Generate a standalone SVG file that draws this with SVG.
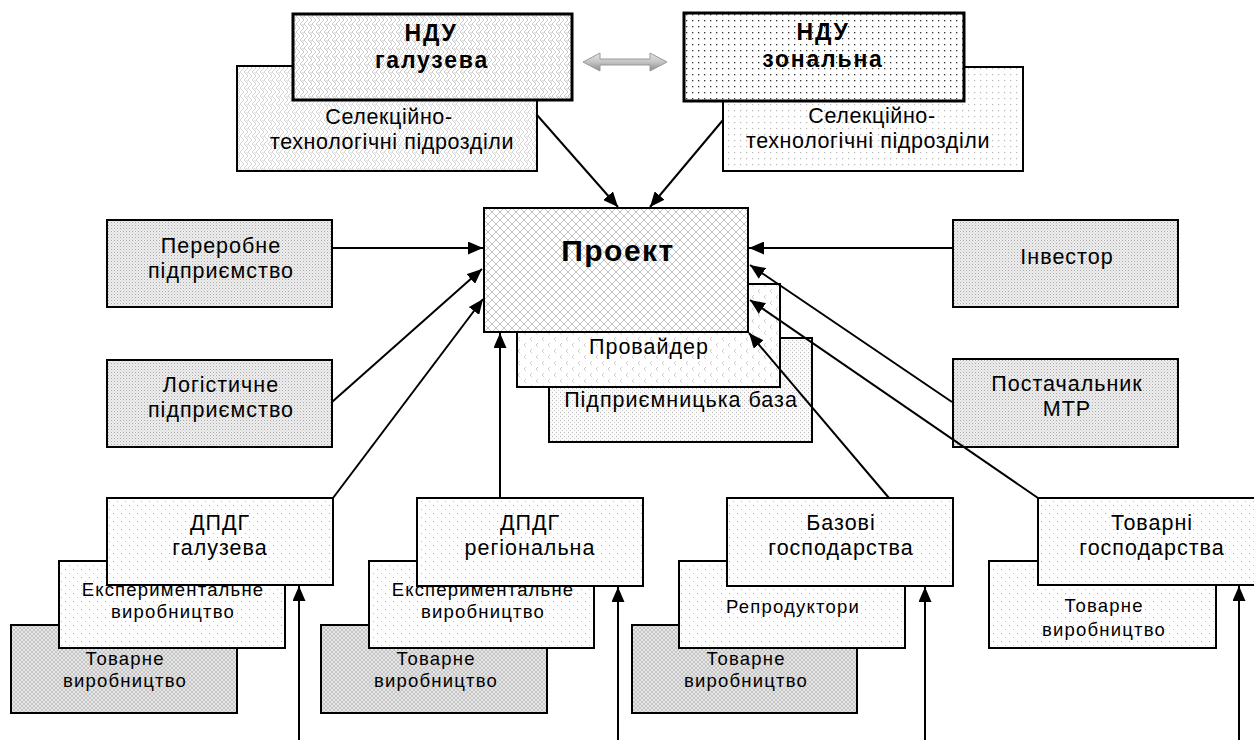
<svg xmlns="http://www.w3.org/2000/svg" width="1254" height="740" viewBox="0 0 1254 740">
<defs>
  <pattern id="pZig" width="8" height="8" patternUnits="userSpaceOnUse">
    <rect width="8" height="8" fill="#fff"/>
    <path d="M0 0 L4 4 L0 8 M4 0 L8 4 M4 8 L8 4 M6 0 L8 2" fill="none" stroke="#c8c8c8" stroke-width="1"/>
  </pattern>
  <pattern id="pZig2" width="8" height="8" patternUnits="userSpaceOnUse">
    <rect width="8" height="8" fill="#fff"/>
    <path d="M0 0 L4 4 L0 8 M4 0 L8 4 M4 8 L8 4 M6 0 L8 2" fill="none" stroke="#d4d4d4" stroke-width="1"/>
  </pattern>
  <pattern id="pDotDark" width="6" height="6" patternUnits="userSpaceOnUse">
    <rect width="6" height="6" fill="#fff"/>
    <rect x="2" y="2" width="1.3" height="1.3" fill="#333"/>
  </pattern>
  <pattern id="pDotLight" width="6" height="6" patternUnits="userSpaceOnUse">
    <rect width="6" height="6" fill="#fff"/>
    <rect x="2" y="2" width="1.2" height="1.2" fill="#b8b8b8"/>
  </pattern>
  <pattern id="pXhatch" width="8" height="8" patternUnits="userSpaceOnUse">
    <rect width="8" height="8" fill="#fff"/>
    <path d="M0 0 L8 8 M8 0 L0 8" stroke="#c4c4c4" stroke-width="1"/>
  </pattern>
  <pattern id="pChev" width="12" height="12" patternUnits="userSpaceOnUse">
    <rect width="12" height="12" fill="#fff"/>
    <path d="M4 1 L2 3 L4 5 M10 7 L8 9 L10 11" fill="none" stroke="#cfcfcf" stroke-width="1"/>
  </pattern>
  <pattern id="pFine" width="3" height="3" patternUnits="userSpaceOnUse">
    <rect width="3" height="3" fill="#ededed"/>
    <rect x="0" y="0" width="1" height="1" fill="#ababab"/>
    <rect x="1.5" y="1.5" width="1" height="1" fill="#cbcbcb"/>
  </pattern>
  <pattern id="pFineLight" width="4" height="4" patternUnits="userSpaceOnUse">
    <rect width="4" height="4" fill="#fafafa"/>
    <rect x="0" y="0" width="1" height="1" fill="#bdbdbd"/>
    <rect x="2" y="2" width="1" height="1" fill="#cfcfcf"/>
  </pattern>
  <pattern id="pSparse" width="8" height="8" patternUnits="userSpaceOnUse">
    <rect width="8" height="8" fill="#fff"/>
    <rect x="1" y="1" width="1" height="1" fill="#a8a8a8"/>
    <rect x="5" y="5" width="1" height="1" fill="#c0c0c0"/>
  </pattern>
  <pattern id="pGray" width="4" height="4" patternUnits="userSpaceOnUse">
    <rect width="4" height="4" fill="#e6e6e6"/>
    <path d="M0 0 L4 4 M4 0 L0 4" stroke="#bcbcbc" stroke-width="0.8"/>
  </pattern>
  <linearGradient id="gArrow" x1="0" y1="0" x2="0" y2="1">
    <stop offset="0" stop-color="#e6e6e6"/>
    <stop offset="0.5" stop-color="#c4c4c4"/>
    <stop offset="1" stop-color="#8c8c8c"/>
  </linearGradient>
  <marker id="ah" markerUnits="userSpaceOnUse" markerWidth="16" markerHeight="13" refX="15" refY="6.5" orient="auto">
    <path d="M0 0 L15 6.5 L0 13 z" fill="#000"/>
  </marker>
</defs>
<style>
  .b { stroke: #000; stroke-width: 2; }
  .bt { stroke: #000; stroke-width: 3; }
  .t { font-family: "Liberation Sans", Arial, sans-serif; font-size: 21.5px; letter-spacing: 1px; fill: #000; text-anchor: middle; }
  .tm { font-family: "Liberation Sans", Arial, sans-serif; font-size: 21.5px; letter-spacing: 0.6px; fill: #000; text-anchor: middle; }
  .ts { font-family: "Liberation Sans", Arial, sans-serif; font-size: 18.5px; letter-spacing: 1.2px; fill: #000; text-anchor: middle; }
  .tb { font-family: "Liberation Sans", Arial, sans-serif; font-size: 23px; letter-spacing: 1.8px; font-weight: bold; fill: #000; text-anchor: middle; }
  .tp { font-family: "Liberation Sans", Arial, sans-serif; font-size: 30px; letter-spacing: 1.5px; font-weight: bold; fill: #000; text-anchor: middle; }
  .c { stroke: #000; stroke-width: 2; fill: none; marker-end: url(#ah); }
</style>

<g id="ndu-galuzeva">
  <rect x="237" y="66" width="300" height="105" fill="url(#pZig2)" class="b"/>
  <text class="tm" x="389" y="124">Селекційно-</text>
  <text class="tm" x="392" y="149">технологічні підрозділи</text>
  <rect x="293" y="14" width="279" height="86" fill="url(#pZig)" class="bt"/>
  <text class="tb" x="431" y="41">НДУ</text>
  <text class="tb" x="432" y="68">галузева</text>
</g>

<g id="ndu-zonalna">
  <rect x="723" y="67" width="300" height="104" fill="url(#pDotLight)" class="b"/>
  <text class="tm" x="872" y="123">Селекційно-</text>
  <text class="tm" x="868" y="148">технологічні підрозділи</text>
  <rect x="684" y="13" width="280" height="88" fill="url(#pDotDark)" class="bt"/>
  <text class="tb" x="823" y="40">НДУ</text>
  <text class="tb" x="823" y="67">зональна</text>
</g>

<g id="double-arrow">
  <polygon points="583,62 600,53 600,59 650,59 650,53 667,62 650,71 650,65 600,65 600,71" fill="url(#gArrow)" stroke="#9a9a9a" stroke-width="1"/>
</g>

<g id="project">
  <rect x="549" y="338" width="263" height="104" fill="url(#pFineLight)" class="b"/>
  <text class="t" x="681" y="407">Підприємницька база</text>
  <rect x="517" y="284" width="263" height="103" fill="url(#pChev)" class="b"/>
  <text class="t" x="649" y="354">Провайдер</text>
  <rect x="484" y="208" width="264" height="124" fill="url(#pXhatch)" class="b" stroke-width="2.5"/>
  <text class="tp" x="618" y="261">Проект</text>
</g>

<g id="pererobne">
  <rect x="107" y="220" width="225" height="87" fill="url(#pFine)" class="b"/>
  <text class="t" x="221" y="253">Переробне</text>
  <text class="t" x="221" y="278">підприємство</text>
</g>

<g id="logistychne">
  <rect x="107" y="360" width="225" height="87" fill="url(#pFine)" class="b"/>
  <text class="t" x="221" y="392">Логістичне</text>
  <text class="t" x="221" y="417">підприємство</text>
</g>

<g id="investor">
  <rect x="953" y="220" width="225" height="87" fill="url(#pFine)" class="b"/>
  <text class="t" x="1067" y="264">Інвестор</text>
</g>

<g id="postachalnyk">
  <rect x="953" y="359" width="225" height="88" fill="url(#pFine)" class="b"/>
  <text class="t" x="1067" y="391">Постачальник</text>
  <text class="t" x="1067" y="416">МТР</text>
</g>

<g id="dpdg-galuzeva">
  <rect x="11" y="625" width="226" height="88" fill="url(#pGray)" class="b"/>
  <text class="ts" x="125" y="665">Товарне</text>
  <text class="ts" x="125" y="687">виробництво</text>
  <rect x="59" y="561" width="226" height="87" fill="url(#pSparse)" class="b"/>
  <text class="ts" x="173" y="596">Експериментальне</text>
  <text class="ts" x="173" y="618">виробництво</text>
  <rect x="107" y="498" width="226" height="87" fill="url(#pSparse)" class="b"/>
  <text class="t" x="220" y="530">ДПДГ</text>
  <text class="t" x="220" y="555">галузева</text>
</g>

<g id="dpdg-regionalna">
  <rect x="321" y="625" width="226" height="88" fill="url(#pGray)" class="b"/>
  <text class="ts" x="436" y="665">Товарне</text>
  <text class="ts" x="436" y="687">виробництво</text>
  <rect x="369" y="561" width="225" height="87" fill="url(#pSparse)" class="b"/>
  <text class="ts" x="483" y="596">Експериментальне</text>
  <text class="ts" x="483" y="618">виробництво</text>
  <rect x="417" y="498" width="226" height="88" fill="url(#pSparse)" class="b"/>
  <text class="t" x="530" y="530">ДПДГ</text>
  <text class="t" x="530" y="555">регіональна</text>
</g>

<g id="bazovi">
  <rect x="632" y="625" width="225" height="88" fill="url(#pGray)" class="b"/>
  <text class="ts" x="746" y="665">Товарне</text>
  <text class="ts" x="746" y="687">виробництво</text>
  <rect x="679" y="561" width="226" height="87" fill="url(#pSparse)" class="b"/>
  <text class="ts" x="793" y="613">Репродуктори</text>
  <rect x="727" y="498" width="226" height="88" fill="url(#pSparse)" class="b"/>
  <text class="t" x="841" y="530">Базові</text>
  <text class="t" x="841" y="555">господарства</text>
</g>

<g id="tovarni">
  <rect x="989" y="561" width="227" height="87" fill="url(#pSparse)" class="b"/>
  <text class="ts" x="1104" y="612">Товарне</text>
  <text class="ts" x="1104" y="636">виробництво</text>
  <rect x="1038" y="498" width="226" height="87" fill="url(#pSparse)" class="b"/>
  <text class="t" x="1152" y="530">Товарні</text>
  <text class="t" x="1152" y="555">господарства</text>
</g>

<g id="connectors">
  <line class="c" x1="537" y1="115" x2="618" y2="207"/>
  <line class="c" x1="723" y1="120" x2="650" y2="207"/>
  <line class="c" x1="332" y1="248" x2="483" y2="248"/>
  <line class="c" x1="332" y1="402" x2="482" y2="269"/>
  <line class="c" x1="333" y1="498" x2="483" y2="299"/>
  <line class="c" x1="500" y1="498" x2="500" y2="333"/>
  <line class="c" x1="953" y1="248" x2="749" y2="248"/>
  <line class="c" x1="952" y1="402" x2="750" y2="265"/>
  <line class="c" x1="1038" y1="498" x2="750" y2="300"/>
  <line class="c" x1="889" y1="498" x2="749" y2="333"/>
  <line class="c" x1="299" y1="740" x2="299" y2="586"/>
  <line class="c" x1="618" y1="740" x2="618" y2="587"/>
  <line class="c" x1="925" y1="740" x2="925" y2="587"/>
  <line class="c" x1="1239" y1="740" x2="1239" y2="586"/>
</g>
</svg>
